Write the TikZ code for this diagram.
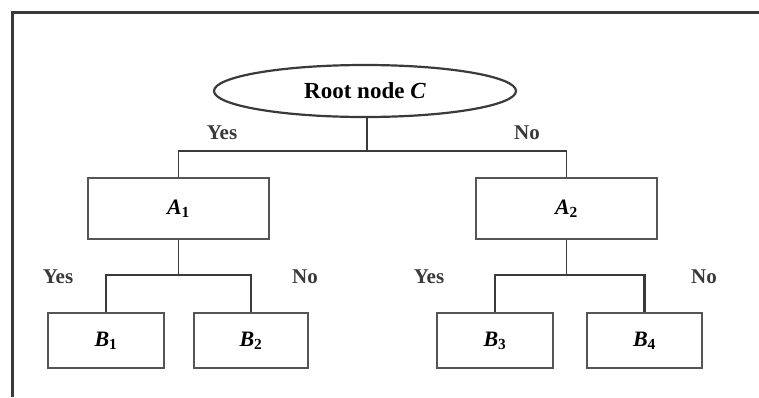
\documentclass[tikz,border=0pt]{standalone}
\usepackage{fontspec}
\setmainfont{Liberation Serif}
\usetikzlibrary{shapes.geometric}
\newcommand\myvar[2]{\textit{#1}\textsubscript{#2}}
\definecolor{ink}{HTML}{3A3A3A}
\definecolor{boxline}{HTML}{555555}
\tikzset{
  treebox/.style={draw=boxline, line width=2.2pt, rectangle, inner sep=0pt, font=\fontsize{22}{26}\selectfont\bfseries},
  rootshape/.style={draw=ink, line width=2.2pt, ellipse, inner sep=0pt, minimum width=302pt, minimum height=52pt, font=\fontsize{23}{27}\selectfont\bfseries},
  lbl/.style={inner sep=0pt, text=ink, font=\fontsize{21}{25}\selectfont\bfseries},
  thinlink/.style={draw=ink, line width=1.6pt},
  thicklink/.style={draw=ink, line width=2.8pt},
  frameline/.style={draw=ink, line width=3pt}
}
\begin{document}
\begin{tikzpicture}[x=1pt,y=-1pt]
\useasboundingbox (0,0) rectangle (759,397);
\fill[white] (0,0) rectangle (759,397);
\draw[frameline] (12,397) -- (12,12) -- (759,12);

\node[rootshape] (root) at (365,91) {Root node \textit{C}};

\node[treebox, minimum width=181pt, minimum height=61pt] (A1) at (178.5,208.5) {\myvar{A}{1}};
\node[treebox, minimum width=181pt, minimum height=61pt] (A2) at (566.5,208.5) {\myvar{A}{2}};

\node[treebox, minimum width=116pt, minimum height=55pt] (B1) at (106,340.5) {\myvar{B}{1}};
\node[treebox, minimum width=114pt, minimum height=55pt] (B2) at (251,340.5) {\myvar{B}{2}};
\node[treebox, minimum width=116pt, minimum height=55pt] (B3) at (495,340.5) {\myvar{B}{3}};
\node[treebox, minimum width=115pt, minimum height=55pt] (B4) at (644.5,340.5) {\myvar{B}{4}};

\node[lbl] (yes0) at (222,133) {Yes};
\node[lbl] (no0) at (527,133) {No};
\node[lbl] (yes1) at (58,277) {Yes};
\node[lbl] (no1) at (305,277) {No};
\node[lbl] (yes2) at (429,277) {Yes};
\node[lbl] (no2) at (704,277) {No};

\coordinate (j0) at (367,151);
\coordinate (j1) at (178.5,275);
\coordinate (j2) at (566.5,275);

\draw[thinlink] (root.south -| j0) -- (j0);
\draw[thinlink] (j0) -| (A1.north);
\draw[thinlink] (j0) -| (A2.north);

\draw[thinlink] (A1.south) -- (j1);
\draw[thicklink] (j1) -| (B1.north);
\draw[thicklink] (j1) -| (B2.north);

\draw[thinlink] (A2.south) -- (j2);
\draw[thicklink] (j2) -| (B3.north);
\draw[thicklink] (j2) -| (B4.north);
\end{tikzpicture}
\end{document}
